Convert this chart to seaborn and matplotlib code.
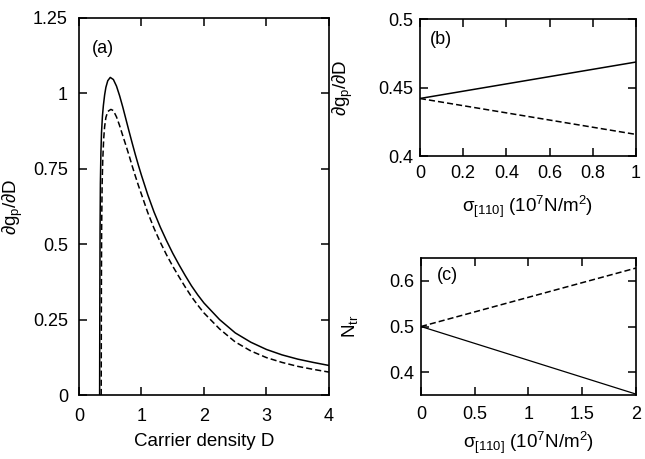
import numpy as np
import pandas as pd
import matplotlib
matplotlib.use("Agg")
import matplotlib.pyplot as plt
import seaborn as sns

# ---- panel (a): differential gain vs carrier density ----
d_solid = [0.33, 0.333, 0.337, 0.342, 0.35, 0.36, 0.375, 0.39, 0.41, 0.43, 0.46,
           0.50, 0.55, 0.60, 0.65, 0.70, 0.75, 0.80, 0.85, 0.90, 0.95, 1.0, 1.1,
           1.2, 1.3, 1.4, 1.5, 1.6, 1.7, 1.8, 1.9, 2.0, 2.25, 2.5, 2.75, 3.0,
           3.25, 3.5, 3.75, 4.0]
g_solid = [0.0, 0.30, 0.55, 0.70, 0.80, 0.87, 0.925, 0.96, 0.995, 1.02, 1.042,
           1.053, 1.046, 1.024, 0.992, 0.955, 0.915, 0.875, 0.836, 0.798, 0.762, 0.728, 0.664,
           0.607, 0.557, 0.512, 0.470, 0.432, 0.396, 0.362, 0.332, 0.305, 0.250, 0.206, 0.175, 0.151,
           0.133, 0.119, 0.108, 0.098]

d_dash = [0.355, 0.358, 0.362, 0.37, 0.38, 0.395, 0.41, 0.43, 0.46, 0.51, 0.55,
          0.60, 0.65, 0.70, 0.75, 0.80, 0.85, 0.90, 0.95, 1.0, 1.1, 1.2, 1.3,
          1.4, 1.5, 1.6, 1.7, 1.8, 1.9, 2.0, 2.25, 2.5, 2.75, 3.0, 3.25, 3.5,
          3.75, 4.0]
g_dash = [0.0, 0.35, 0.55, 0.70, 0.78, 0.85, 0.89, 0.92, 0.94, 0.947, 0.943,
          0.922, 0.893, 0.860, 0.828, 0.795, 0.760, 0.727, 0.695, 0.665, 0.605, 0.553, 0.507,
          0.465, 0.427, 0.392, 0.358, 0.326, 0.298, 0.272, 0.219, 0.176, 0.146, 0.124, 0.108, 0.095,
          0.085, 0.076]

# ---- panel (b): differential gain vs stress ----
stress_b = [0.0, 0.5, 1.0]
gain_b_up = [0.442, 0.4553, 0.4686]
gain_b_down = [0.442, 0.4289, 0.4158]

# ---- panel (c): transparency density vs stress ----
stress_c = [0.0, 1.0, 2.0]
ntr_up = [0.5, 0.564, 0.628]
ntr_down = [0.5, 0.426, 0.352]

sns.set_style("ticks")
plt.rcParams.update({
    "font.family": ["Liberation Sans", "DejaVu Sans"],
    "font.size": 13,
    "mathtext.fontset": "custom",
    "mathtext.rm": "Liberation Sans",
    "mathtext.it": "Liberation Sans",
    "mathtext.bf": "Liberation Sans:bold",
    "mathtext.sf": "Liberation Sans",
    "axes.linewidth": 1.2,
    "axes.edgecolor": "black",
    "xtick.color": "black",
    "ytick.color": "black",
    "text.color": "black",
    "axes.labelcolor": "black",
})

fig = plt.figure(figsize=(6.45, 4.59), dpi=100)
ax_a = fig.add_axes([0.1225, 0.1394, 0.3875, 0.8214])
ax_b = fig.add_axes([0.651, 0.660, 0.335, 0.2986])
ax_c = fig.add_axes([0.6527, 0.1394, 0.3333, 0.2985])

lw = 1.1
dash = (4, 2)
TICK_FS = 13
LABEL_FS = 13.5


def style(ax, xpad, ypad):
    ax.tick_params(direction="in", length=6, width=1.1, top=True, right=True,
                   labelsize=TICK_FS, colors="black")
    ax.tick_params(axis="x", pad=xpad)
    ax.tick_params(axis="y", pad=ypad)
    for s in ax.spines.values():
        s.set_visible(True)
        s.set_linewidth(1.2)


# (a)
sns.lineplot(data=pd.DataFrame({"D": d_solid, "g": g_solid}), x="D", y="g",
             ax=ax_a, color="black", lw=lw, sort=False)
sns.lineplot(data=pd.DataFrame({"D": d_dash, "g": g_dash}), x="D", y="g",
             ax=ax_a, color="black", lw=lw, sort=False, linestyle=(0, dash))
ax_a.set_xlim(0, 4)
ax_a.set_ylim(0, 1.25)
ax_a.set_xticks([0, 1, 2, 3, 4])
ax_a.set_xticklabels(["0", "1", "2", "3", "4"])
ax_a.set_yticks([0, 0.25, 0.5, 0.75, 1.0, 1.25])
ax_a.set_yticklabels(["0", "0.25", "0.5", "0.75", "1", "1.25"])
ax_a.set_xlabel("Carrier density D", fontsize=LABEL_FS)
ax_a.set_ylabel(r"$\partial g_p/\partial D$", fontsize=LABEL_FS)
ax_a.xaxis.set_label_coords(0.5, -0.101)
ax_a.yaxis.set_label_coords(-0.216, 0.5)
ax_a.text(0.052, 0.92, "(a)", transform=ax_a.transAxes, fontsize=TICK_FS, va="center")
style(ax_a, xpad=9.5, ypad=8)

# (b)
sns.lineplot(x=stress_b, y=gain_b_up, ax=ax_b, color="black", lw=lw)
sns.lineplot(x=stress_b, y=gain_b_down, ax=ax_b, color="black", lw=lw, linestyle=(0, dash))
ax_b.set_xlim(0, 1)
ax_b.set_ylim(0.4, 0.5)
ax_b.set_xticks([0, 0.2, 0.4, 0.6, 0.8, 1.0])
ax_b.set_xticklabels(["0", "0.2", "0.4", "0.6", "0.8", "1"])
ax_b.set_yticks([0.4, 0.45, 0.5])
ax_b.set_yticklabels(["0.4", "0.45", "0.5"])
ax_b.set_xlabel(r"$\sigma_{[110]}$ (10$^7$N/m$^2$)", fontsize=LABEL_FS)
ax_b.set_ylabel(r"$\partial g_p/\partial D$", fontsize=LABEL_FS)
ax_b.xaxis.set_label_coords(0.5, -0.277)
ax_b.yaxis.set_label_coords(-0.301, 0.5)
ax_b.text(0.046, 0.847, "(b)", transform=ax_b.transAxes, fontsize=TICK_FS, va="center")
style(ax_b, xpad=6.5, ypad=5)

# (c)
sns.lineplot(x=stress_c, y=ntr_down, ax=ax_c, color="black", lw=0.9)
sns.lineplot(x=stress_c, y=ntr_up, ax=ax_c, color="black", lw=lw, linestyle=(0, dash))
ax_c.set_xlim(0, 2)
ax_c.set_ylim(0.35, 0.65)
ax_c.set_xticks([0, 0.5, 1.0, 1.5, 2.0])
ax_c.set_xticklabels(["0", "0.5", "1", "1.5", "2"])
ax_c.set_yticks([0.4, 0.5, 0.6])
ax_c.set_yticklabels(["0.4", "0.5", "0.6"])
ax_c.set_xlabel(r"$\sigma_{[110]}$ (10$^7$N/m$^2$)", fontsize=LABEL_FS)
ax_c.set_ylabel(r"$N_{tr}$", fontsize=LABEL_FS)
ax_c.xaxis.set_label_coords(0.5, -0.255)
ax_c.yaxis.set_label_coords(-0.284, 0.5)
ax_c.text(0.074, 0.869, "(c)", transform=ax_c.transAxes, fontsize=TICK_FS, va="center")
style(ax_c, xpad=8, ypad=5)

for ax in (ax_a, ax_b, ax_c):
    leg = ax.get_legend()
    if leg is not None:
        leg.remove()

fig.savefig("out.png", dpi=100)
